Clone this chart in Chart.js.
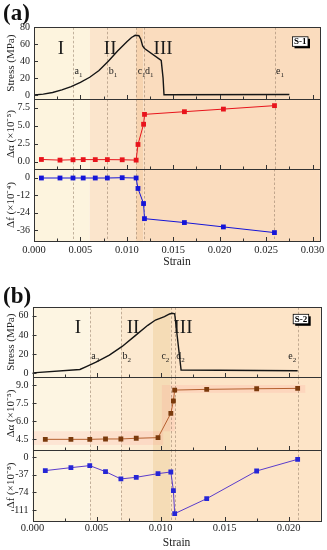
<!DOCTYPE html>
<html lang="en">
<head>
<meta charset="UTF-8">
<title>S-1 / S-2 stress, Δα and Δf against strain</title>
<script src="https://cdn.jsdelivr.net/npm/chart.js"></script>
<style>
  body { margin: 0; background: #fff; }
  #fig { position: relative; width: 327px; height: 550px; overflow: hidden; }
  #fig canvas { position: absolute; left: 0; top: 0; }
  .tag { position: absolute; left: 3px; font: bold 23px "Liberation Serif", serif; line-height: 1; color: #111; }
</style>
</head>
<body>
<div id="fig">
  <canvas id="a1" width="327" height="550"></canvas>
  <canvas id="a2" width="327" height="550"></canvas>
  <canvas id="a3" width="327" height="550"></canvas>
  <canvas id="b1" width="327" height="550"></canvas>
  <canvas id="b2" width="327" height="550"></canvas>
  <canvas id="b3" width="327" height="550"></canvas>
  <div class="tag" style="top:1px">(a)</div>
  <div class="tag" style="top:284px">(b)</div>
</div>
<script>
const SERIF = '"Liberation Serif", "Times New Roman", serif';

// ---- (a) sample S-1 ----
const strainCurveA = [0, 0.001, 0.002, 0.003, 0.004, 0.005, 0.006, 0.007, 0.008, 0.009, 0.010, 0.0105, 0.0109, 0.0113, 0.0115, 0.0117, 0.0119, 0.0137, 0.0139, 0.0140, 0.0275];
const stressA = [0, 1, 3, 6, 10, 15, 21, 29, 40, 52, 63, 68, 70.5, 70, 66, 58, 55, 41, 20, 0.3, 0.6];
const strainPtsA = [0.0008, 0.0028, 0.0042, 0.0053, 0.0066, 0.0079, 0.0095, 0.0110, 0.0112, 0.0118, 0.0119, 0.0162, 0.0204, 0.0259];
const dAlphaA = [0.32, 0.23, 0.28, 0.30, 0.30, 0.30, 0.28, 0.23, 2.4, 5.2, 6.57, 6.94, 7.3, 7.78];
const dFreqA = [-0.2, -0.2, -0.2, -0.2, -0.2, -0.2, 0, -0.2, -7.4, -17.8, -28.2, -30.9, -33.9, -37.8];
const markNamesA = ['a1', 'b1', 'c1', 'd1', 'e1'];
const markStrainA = [0.0042, 0.0079, 0.0110, 0.0118, 0.0259];
const stageEdgesA = [0.006, 0.0110, 0.0118];
const stageLabelStrainA = [0.0029, 0.0082, 0.0139];

// ---- (b) sample S-2 ----
const strainCurveB = [0, 0.0037, 0.0042, 0.005, 0.006, 0.007, 0.008, 0.009, 0.0096, 0.0103, 0.0107, 0.0109, 0.0111, 0.0116, 0.0207];
const stressB = [0.5, 4, 7, 12, 19, 28, 39, 50, 55.5, 59, 61.8, 62.5, 62, 3.5, 2.7];
const strainPtsB = [0.0010, 0.0030, 0.00447, 0.0057, 0.0069, 0.0081, 0.0098, 0.0108, 0.0110, 0.0111, 0.0136, 0.0175, 0.0207];
const dAlphaB = [4.47, 4.47, 4.47, 4.5, 4.5, 4.56, 4.61, 6.64, 7.67, 8.58, 8.64, 8.69, 8.72];
const dFreqB = [-28, -21.8, -17.5, -30.2, -45.6, -42.1, -34.4, -30.9, -70.2, -118.7, -87.1, -28.8, -4.2];
const markNamesB = ['a2', 'b2', 'c2', 'd2', 'e2'];
const markStrainB = [0.00447, 0.0069, 0.0108, 0.0111, 0.0207];
const stageEdgesB = [0.00447, 0.0069, 0.0094, 0.0108];
const stageLabelStrainB = [0.00355, 0.00785, 0.01175];

const stageNames = ['I', 'II', 'III'];
const strainTicksA = [0, 0.005, 0.010, 0.015, 0.020, 0.025, 0.030];
const strainTicksB = [0, 0.005, 0.010, 0.015, 0.020];
const stressTicksA = [0, 20, 40, 60, 80];
const alphaTicksA = [0, 2.5, 5, 7.5];
const freqTicksA = [0, -12, -24, -36];
const stressTicksB = [0, 20, 40, 60];
const alphaTicksB = [4.5, 6, 7.5, 9];
const freqTicksB = [0, -37, -74, -111];

function xy(xs, ys) { return xs.map((v, i) => ({ x: v, y: ys[i] })); }

function curve(xs, ys) {
  return { data: xy(xs, ys), borderColor: '#151515', borderWidth: 1.4, pointRadius: 0, tension: 0 };
}
function dots(xs, ys, line, fill) {
  return {
    data: xy(xs, ys), borderColor: line, borderWidth: 1, tension: 0,
    pointStyle: 'rect', pointRadius: 3.4, pointBackgroundColor: fill,
    pointBorderColor: fill, pointBorderWidth: 0
  };
}

function decor(p) {
  return {
    id: 'decor',
    beforeDatasetsDraw(chart) {
      const { ctx, chartArea: a, scales: { x, y } } = chart;
      ctx.save();
      const edges = [0, ...p.stages, p.xmax];
      for (let i = 0; i < edges.length - 1; i++) {
        const x0 = x.getPixelForValue(edges[i]), x1 = x.getPixelForValue(edges[i + 1]);
        ctx.fillStyle = p.stageColors[i];
        ctx.fillRect(x0, a.top, x1 - x0, a.bottom - a.top);
      }
      (p.glow || []).forEach(g => {
        const x0 = x.getPixelForValue(g[0]), x1 = x.getPixelForValue(g[1]);
        const y0 = y.getPixelForValue(g[3]), y1 = y.getPixelForValue(g[2]);
        ctx.fillStyle = 'rgba(255,120,120,0.13)';
        ctx.fillRect(x0, y0, x1 - x0, y1 - y0);
      });
      ctx.strokeStyle = 'rgba(140,115,95,0.65)';
      ctx.lineWidth = 0.8;
      ctx.setLineDash([2.5, 2]);
      p.marks.forEach(m => {
        const px = Math.round(x.getPixelForValue(m)) + 0.5;
        ctx.beginPath(); ctx.moveTo(px, a.top); ctx.lineTo(px, a.bottom); ctx.stroke();
      });
      ctx.restore();
    },
    afterDatasetsDraw(chart) {
      const { ctx, chartArea: a, scales: { x, y } } = chart;
      ctx.save();
      ctx.strokeStyle = '#333';
      ctx.lineWidth = 1;
      ctx.beginPath();
      p.xTicks.forEach(v => {
        [v, v + 0.0025].forEach((t, k) => {
          if (t > p.xmax) return;
          const px = Math.round(x.getPixelForValue(t)) + 0.5;
          ctx.moveTo(px, a.bottom); ctx.lineTo(px, a.bottom - (k ? 2.5 : 4));
        });
      });
      p.yTicks.forEach(v => {
        const py = Math.round(y.getPixelForValue(v)) + 0.5;
        ctx.moveTo(a.left, py); ctx.lineTo(a.left + 4, py);
      });
      ctx.stroke();
      ctx.strokeRect(Math.round(a.left) + 0.5, Math.round(a.top) + 0.5,
        Math.round(a.right - a.left), Math.round(a.bottom - a.top));

      if (p.stageLabels) {
        ctx.fillStyle = '#1a1a1a';
        ctx.font = '19px ' + SERIF;
        ctx.textAlign = 'center';
        ctx.textBaseline = 'middle';
        p.stageLabels.forEach((s, i) => {
          ctx.fillText(stageNames[i], x.getPixelForValue(s), y.getPixelForValue(p.stageY));
        });
        ctx.textAlign = 'left';
        ctx.textBaseline = 'alphabetic';
        const by = y.getPixelForValue(p.markY);
        p.markNames.forEach((name, i) => {
          ctx.font = '10px ' + SERIF;
          const wb = ctx.measureText(name[0]).width;
          ctx.font = '7px ' + SERIF;
          const ws = ctx.measureText(name[1]).width;
          const px = x.getPixelForValue(p.marks[i]);
          const sx = p.markAlign[i] === 'r' ? px - 1.5 - wb - ws : px + 1.5;
          ctx.font = '10px ' + SERIF;
          ctx.fillText(name[0], sx, by);
          ctx.font = '7px ' + SERIF;
          ctx.fillText(name[1], sx + wb, by + 2.5);
        });
        // sample tag box
        const bx = a.right - 27.5, bw = 15.5, bh = 9.5, byy = a.top + p.boxTop;
        ctx.fillStyle = '#000';
        ctx.fillRect(bx + 2, byy + 2, bw, bh);
        ctx.fillStyle = '#fff';
        ctx.fillRect(bx, byy, bw, bh);
        ctx.strokeStyle = '#000';
        ctx.lineWidth = 0.8;
        ctx.strokeRect(bx, byy, bw, bh);
        ctx.fillStyle = '#000';
        ctx.font = 'bold 9px ' + SERIF;
        ctx.textAlign = 'center';
        ctx.textBaseline = 'middle';
        ctx.fillText(p.box, bx + bw / 2, byy + bh / 2 + 0.5);
      }
      ctx.restore();
    }
  };
}

function panel(id, p) {
  new Chart(document.getElementById(id), {
    type: 'line',
    data: { datasets: [p.dataset] },
    options: {
      responsive: false,
      animation: false,
      devicePixelRatio: 1,
      layout: { padding: { left: 0, right: 327 - p.right, top: p.top, bottom: 550 - p.bottom - (p.last ? p.xh : 0) } },
      plugins: { legend: { display: false }, tooltip: { enabled: false } },
      scales: {
        x: {
          type: 'linear', min: 0, max: p.xmax, display: !!p.last,
          afterBuildTicks: s => { s.ticks = p.xTicks.map(v => ({ value: v })); },
          afterFit: s => { if (p.last) s.height = p.xh; },
          grid: { display: false, drawTicks: false },
          border: { display: false },
          ticks: {
            padding: p.xpad, color: '#222', maxRotation: 0, autoSkip: false,
            font: { family: SERIF, size: 10.5 },
            callback: v => v.toFixed(3)
          },
          title: {
            display: true, text: 'Strain', color: '#222',
            font: { family: SERIF, size: 11.5 }, padding: { top: 0, bottom: p.tpad }
          }
        },
        y: {
          min: p.ymin, max: p.ymax,
          afterBuildTicks: s => { s.ticks = p.yTicks.map(v => ({ value: v })); },
          afterFit: s => { s.width = p.left; },
          grid: { display: false, drawTicks: false },
          border: { display: false },
          ticks: {
            padding: 4, color: '#222', font: { family: SERIF, size: 10 },
            callback: v => v.toFixed(p.dec || 0)
          },
          title: {
            display: true, text: p.title, color: '#222',
            font: { family: SERIF, size: 11 }, padding: { top: 5, bottom: 0 }
          }
        }
      }
    },
    plugins: [decor(p)]
  });
}

const colorsA = ['#fdf4de', '#fbe5cc', '#f7d4b0', '#fadcbe'];
const colorsB = ['#fdf5e2', '#fdefd8', '#fce9d0', '#f5dcb6', '#fde4c7'];

const baseA = { left: 34, right: 320, xmax: 0.0308, xTicks: strainTicksA, marks: markStrainA, stages: stageEdgesA, stageColors: colorsA };
const baseB = { left: 32.5, right: 320.7, xmax: 0.0225, xTicks: strainTicksB, marks: markStrainB, stages: stageEdgesB, stageColors: colorsB };

panel('a1', Object.assign({}, baseA, {
  top: 27.3, bottom: 99, ymin: -4.7, ymax: 80, yTicks: stressTicksA, title: 'Stress (MPa)',
  dataset: curve(strainCurveA, stressA),
  stageLabels: stageLabelStrainA, stageY: 54, markNames: markNamesA, markY: 24.8,
  markAlign: ['l', 'l', 'l', 'l', 'l'], box: 'S-1', boxTop: 9.5
}));
panel('a2', Object.assign({}, baseA, {
  top: 99, bottom: 169, ymin: -1.0, ymax: 8.7, yTicks: alphaTicksA, dec: 1, title: 'Δα (×10⁻⁵)',
  dataset: dots(strainPtsA, dAlphaA, '#e8141c', '#e8141c')
}));
panel('a3', Object.assign({}, baseA, {
  top: 169, bottom: 241, ymin: -43.6, ymax: 6.0, yTicks: freqTicksA, title: 'Δf (×10⁻⁴)',
  dataset: dots(strainPtsA, dFreqA, '#1515d8', '#1515d8'),
  last: true, xh: 30, xpad: 2.5, tpad: 1.9
}));

panel('b1', Object.assign({}, baseB, {
  top: 307.3, bottom: 377, ymin: -3.85, ymax: 68.75, yTicks: stressTicksB, title: 'Stress (MPa)',
  dataset: curve(strainCurveB, stressB),
  stageLabels: stageLabelStrainB, stageY: 47.2, markNames: markNamesB, markY: 14.5,
  markAlign: ['l', 'l', 'r', 'l', 'r'], box: 'S-2', boxTop: 7
}));
panel('b2', Object.assign({}, baseB, {
  top: 377, bottom: 450, ymin: 3.58, ymax: 9.67, yTicks: alphaTicksB, dec: 1, title: 'Δα (×10⁻⁵)',
  dataset: dots(strainPtsB, dAlphaB, '#b5602e', '#7a3a0c'),
  glow: [[0, 0.0102, 4.0, 5.15], [0.0101, 0.0111, 5.15, 8.35], [0.0101, 0.0213, 8.35, 9.0]]
}));
panel('b3', Object.assign({}, baseB, {
  top: 450, bottom: 521, ymin: -134.2, ymax: 15.4, yTicks: freqTicksB, title: 'Δf (×10⁻⁸)',
  dataset: dots(strainPtsB, dFreqB, '#5a3ccc', '#2626d6'),
  last: true, xh: 29, xpad: 1.2, tpad: 0
}));
</script>
</body>
</html>
